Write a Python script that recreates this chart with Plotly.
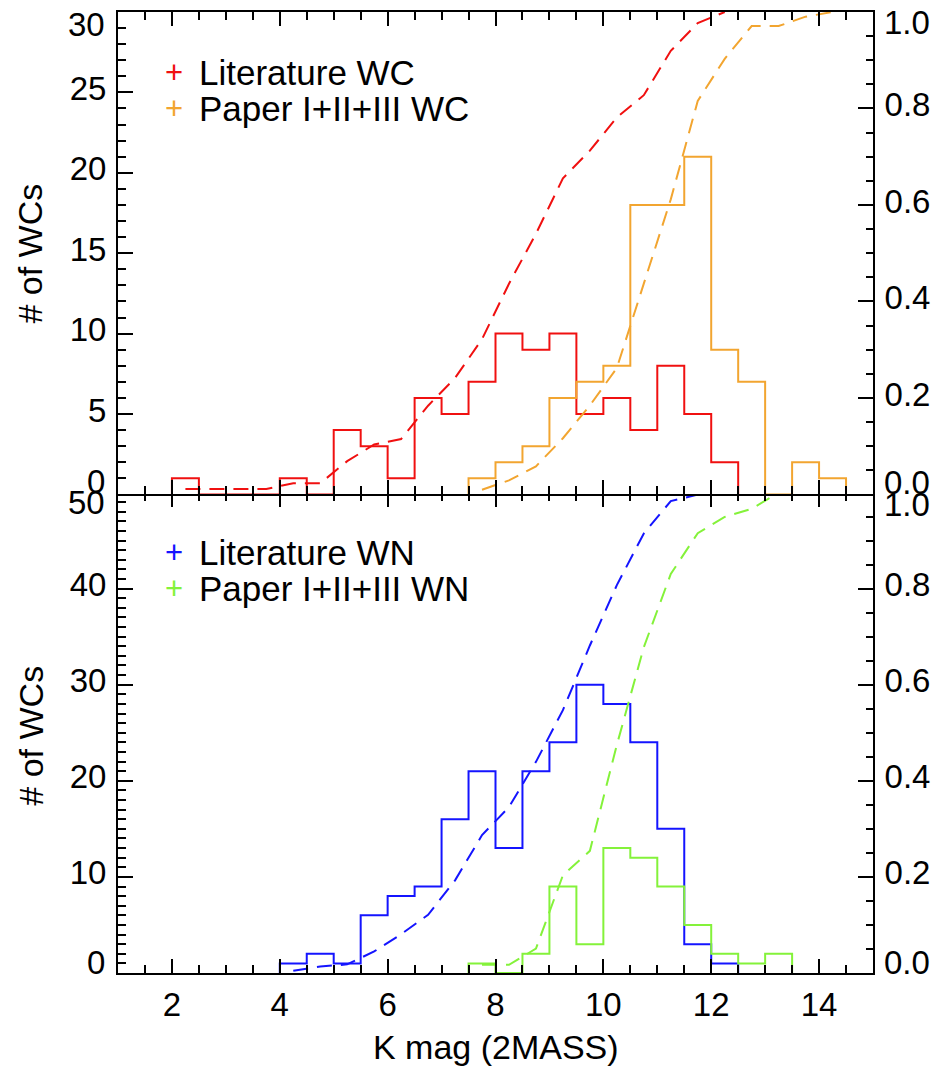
import numpy as np
import plotly.graph_objects as go

# Lower edges of the K-band magnitude bins (each 0.5 mag wide)
bin_lo = [2.0, 2.5, 3.0, 3.5, 4.0, 4.5, 5.0, 5.5, 6.0, 6.5, 7.0, 7.5, 8.0, 8.5,
          9.0, 9.5, 10.0, 10.5, 11.0, 11.5, 12.0, 12.5, 13.0, 13.5, 14.0, 14.5]
bin_width = 0.5

# Number of WC stars per bin
wc_literature = [1, 0, 0, 0, 1, 0, 4, 3, 1, 6, 5, 7, 10, 9,
                 10, 5, 6, 4, 8, 5, 2, 0, 0, 0, 0, 0]
wc_papers = [0, 0, 0, 0, 0, 0, 0, 0, 0, 0, 0, 1, 2, 3,
             6, 7, 8, 18, 18, 21, 9, 7, 0, 2, 1, 0]

# Number of WN stars per bin
wn_literature = [0, 0, 0, 0, 1, 2, 1, 6, 8, 9, 16, 21, 13, 21,
                 24, 30, 28, 24, 15, 3, 1, 0, 0, 0, 0, 0]
wn_papers = [0, 0, 0, 0, 0, 0, 0, 0, 0, 0, 0, 1, 0, 2,
             9, 3, 13, 12, 9, 5, 2, 1, 2, 0, 0, 0]

# Axis ticks
x_ticks = [2, 4, 6, 8, 10, 12, 14]
wc_ticks = [0, 5, 10, 15, 20, 25, 30]
wn_ticks = [0, 10, 20, 30, 40, 50]
frac_ticks = [0.0, 0.2, 0.4, 0.6, 0.8, 1.0]

C_RED = "#F01010"
C_ORANGE = "#F2A530"
C_BLUE = "#1414FF"
C_GREEN = "#84F23A"

FONT = "Liberation Sans, Arial, Helvetica, sans-serif"
TICK_SIZE = 33
TITLE_SIZE = 34
LEG_SIZE = 35


def hist_steps(counts):
    lo = np.asarray(bin_lo, dtype=float)
    c = np.asarray(counts, dtype=float)
    nz = np.nonzero(c)[0]
    f, l = nz[0], nz[-1]
    xs = np.concatenate([[lo[f]], lo[f:l + 1], [lo[l] + bin_width]])
    ys = np.concatenate([[0.0], c[f:l + 1], [0.0]])
    return xs, ys


def cumulative(counts):
    lo = np.asarray(bin_lo, dtype=float)
    c = np.asarray(counts, dtype=float)
    nz = np.nonzero(c)[0]
    f, l = nz[0], nz[-1]
    xs = lo[f:l + 1] + bin_width / 2
    ys = np.cumsum(c[f:l + 1]) / c.sum()
    return xs, ys


fig = go.Figure()

panels = [
    # (counts, colour, count axis, fraction axis, x axis)
    (wc_literature, C_RED, "y2", "y4", "x2"),
    (wc_papers, C_ORANGE, "y2", "y4", "x2"),
    (wn_literature, C_BLUE, "y", "y3", "x"),
    (wn_papers, C_GREEN, "y", "y3", "x"),
]

for counts, col, yc, yf, xa in panels:
    hx, hy = hist_steps(counts)
    fig.add_trace(go.Scatter(x=hx, y=hy, mode="lines", line_shape="hv",
                             line=dict(color=col, width=2), xaxis=xa, yaxis=yc,
                             showlegend=False, hoverinfo="skip"))
    cx, cy = cumulative(counts)
    fig.add_trace(go.Scatter(x=cx, y=cy, mode="lines",
                             line=dict(color=col, width=2, dash="15px,9px"),
                             xaxis=xa, yaxis=yf, showlegend=False, hoverinfo="skip"))

tickfont = dict(family=FONT, size=TICK_SIZE, color="black")

xcommon = dict(range=[1, 15], showline=True, linecolor="black", linewidth=2,
               mirror="ticks", ticks="inside", ticklen=14, tickwidth=1.5,
               tickcolor="black", tickvals=x_ticks, showgrid=False, zeroline=False,
               minor=dict(dtick=0.5, tick0=0, ticks="inside", ticklen=8,
                          tickwidth=1.5, tickcolor="black", showgrid=False),
               tickfont=tickfont)

ycommon = dict(showline=True, linecolor="black", linewidth=2, mirror=False,
               ticks="inside", ticklen=15, tickwidth=1.5, tickcolor="black",
               showgrid=False, zeroline=False, tickfont=tickfont,
               ticklabelstandoff=3, ticklabelshift=-4)


def inner_labels(vals, fmt):
    return [("" if (v == vals[0] or v == vals[-1]) else fmt(v)) for v in vals]


# The two panels share one border line
SPLIT = 0.5
fig.update_layout(
    width=940, height=1073,
    margin=dict(l=118, r=66, t=10, b=100),
    paper_bgcolor="white", plot_bgcolor="white",
    showlegend=False,
    xaxis=dict(xcommon, anchor="y", domain=[0, 1], ticklabelstandoff=1),
    xaxis2=dict(xcommon, anchor="y2", matches="x", showticklabels=False),
    yaxis=dict(ycommon, domain=[0, SPLIT], range=[0, 50], anchor="x",
               tickvals=wn_ticks, ticktext=inner_labels(wn_ticks, str),
               minor=dict(dtick=1, ticks="inside", ticklen=8, tickwidth=1.5,
                          tickcolor="black", showgrid=False)),
    yaxis2=dict(ycommon, domain=[SPLIT - 0.002, 1], range=[0, 30], anchor="x2",
                tickvals=wc_ticks, ticktext=inner_labels(wc_ticks, str),
                minor=dict(dtick=1, ticks="inside", ticklen=8, tickwidth=1.5,
                           tickcolor="black", showgrid=False)),
    yaxis3=dict(ycommon, overlaying="y", side="right", range=[0, 1], anchor="x",
                tickvals=frac_ticks,
                ticktext=inner_labels(frac_ticks, lambda v: f"{v:.1f}"),
                minor=dict(dtick=0.05, ticks="inside", ticklen=7, tickwidth=1.5,
                           tickcolor="black", showgrid=False)),
    yaxis4=dict(ycommon, overlaying="y2", side="right", range=[0, 1], anchor="x2",
                tickvals=frac_ticks,
                ticktext=inner_labels(frac_ticks, lambda v: f"{v:.1f}"),
                minor=dict(dtick=0.05, ticks="inside", ticklen=7, tickwidth=1.5,
                           tickcolor="black", showgrid=False)),
)

annotations = []


def txt(text, x, y, xanchor="center", yanchor="middle", size=TICK_SIZE,
        color="black", angle=0, xref="paper", yref="paper"):
    annotations.append(dict(text=text, x=x, y=y, xref=xref, yref=yref,
                            xanchor=xanchor, yanchor=yanchor, showarrow=False,
                            textangle=angle,
                            font=dict(family=FONT, size=size, color=color)))


# End labels of the count axes, nudged inside each panel
txt(str(wc_ticks[-1]), -0.0145, 0.9875, xanchor="right")
txt(str(wc_ticks[0]), -0.0145, 0.5119, xanchor="right")
txt(str(wn_ticks[-1]), -0.0145, 0.4891, xanchor="right")
txt(str(wn_ticks[0]), -0.0145, 0.0114, xanchor="right")
# End labels of the cumulative-fraction axes
txt(f"{frac_ticks[-1]:.1f}", 1.0119, 0.9886, xanchor="left")
txt(f"{frac_ticks[0]:.1f}", 1.0119, 0.5109, xanchor="left")
txt(f"{frac_ticks[-1]:.1f}", 1.0119, 0.4870, xanchor="left")
txt(f"{frac_ticks[0]:.1f}", 1.0119, 0.0114, xanchor="left")

# Axis titles
txt("# of WCs", -0.1164, 0.7487, angle=-90, size=TITLE_SIZE)
txt("# of WCs", -0.1164, 0.2471, angle=-90, size=TITLE_SIZE)
txt("K mag (2MASS)", 0.5013, -0.0768, size=TITLE_SIZE)

# Legends
legend_rows = [
    ("Literature WC", C_RED, 0.9367),
    ("Paper I+II+III WC", C_ORANGE, 0.8993),
    ("Literature WN", C_BLUE, 0.4372),
    ("Paper I+II+III WN", C_GREEN, 0.4000),
]
for label, col, yy in legend_rows:
    txt("+", 0.074, yy, size=LEG_SIZE - 4, color=col)
    txt(label, 0.1045, yy, xanchor="left", size=LEG_SIZE)

fig.update_layout(annotations=annotations)

fig.write_html("out.html")
